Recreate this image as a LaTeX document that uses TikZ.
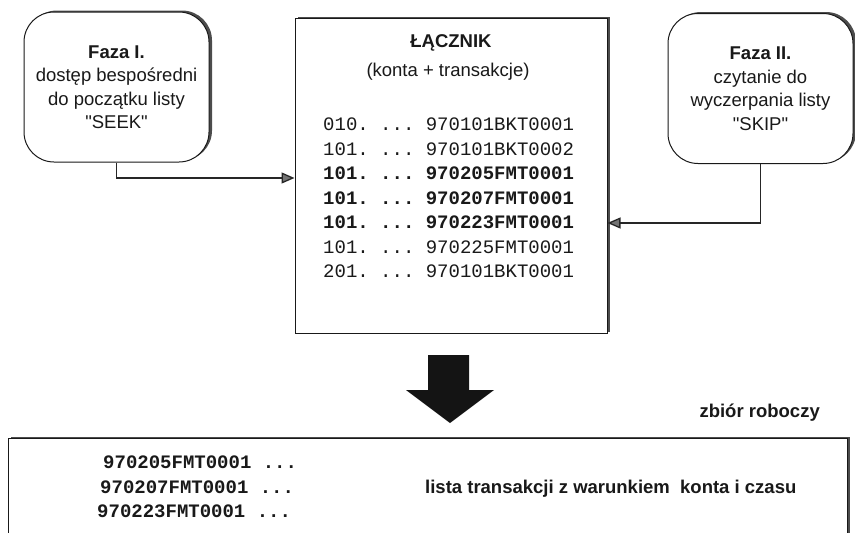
\documentclass[tikz,border=0pt]{standalone}
\usepackage{fontspec}
\setmainfont{Liberation Sans}
\setmonofont{Liberation Mono}
\usetikzlibrary{arrows.meta,shadows}

\begin{document}
\begin{tikzpicture}[x=1pt,y=-1pt,
  boxshadow/.style={drop shadow={shadow xshift=3pt,shadow yshift=1.5pt,fill=black!70,opacity=1}},
  phase/.style={draw=black!90,line width=1pt,fill=white,rounded corners=30pt,
    minimum width=185pt,minimum height=150pt,inner sep=0pt,align=center,
    font=\fontsize{18.5}{23.5}\selectfont,text=black!90,boxshadow},
  frame/.style={draw=black!90,line width=1pt,fill=white,inner sep=0pt,boxshadow},
  sanslabel/.style={inner sep=0pt,text=black!90,font=\fontsize{18.5}{22}\selectfont},
  boldlabel/.style={sanslabel,font=\fontsize{18.5}{22}\selectfont\bfseries},
  monoline/.style={inner sep=0pt,anchor=west,text=black!90,font=\fontsize{19}{22}\selectfont\ttfamily},
  monobold/.style={monoline,font=\fontsize{19}{22}\selectfont\ttfamily\bfseries},
  link/.style={draw=black!85,line width=1.3pt,
    -{Triangle[length=13pt,width=11pt,fill=black!55]}}
]
\useasboundingbox (0,0) rectangle (855,533);
\clip (0,0) rectangle (855,533);

% phase boxes
\node[phase] (seek) at (116.5,87)
  {\textbf{Faza I.}\\dostęp bespośredni\\do początku listy\\\textquotedbl SEEK\textquotedbl};
\node[phase] (skip) at (760.5,88.5)
  {\textbf{Faza II.}\\czytanie do\\wyczerpania listy\\\textquotedbl SKIP\textquotedbl};

% linking file
\node[frame,minimum width=312pt,minimum height=315pt] (link) at (451,175.5) {};
\node[boldlabel] (ltitle) at (451,43) {ŁĄCZNIK};
\node[sanslabel] (lsub) at (448,72) {(konta + transakcje)};
\node[monoline] (r1) at (323,124) {010. ... 970101BKT0001};
\node[monoline] (r2) at (323,149) {101. ... 970101BKT0002};
\node[monobold] (r3) at (323,173) {101. ... 970205FMT0001};
\node[monobold] (r4) at (323,198) {101. ... 970207FMT0001};
\node[monobold] (r5) at (323,222) {101. ... 970223FMT0001};
\node[monoline] (r6) at (323,247) {101. ... 970225FMT0001};
\node[monoline] (r7) at (323,271) {201. ... 970101BKT0001};

% access paths into the linking file
\draw[link] (seek.south) |- ([yshift=-2.5pt]link.west);
\draw[link] (skip.south) |- ([yshift=-47.5pt]link.east);

% result arrow
\fill[black!92] (428,355) -- (469,355) -- (469,390) -- (494,390) -- (450,423)
  -- (406,390) -- (428,390) -- cycle;

% working set
\node[boldlabel,anchor=east] (wlabel) at (820,413) {zbiór roboczy};
\node[frame,minimum width=839pt,minimum height=170pt] (work) at (427.5,523) {};
\node[monobold] (w1) at (103,462) {970205FMT0001 ...};
\node[monobold] (w2) at (100,487) {970207FMT0001 ...};
\node[monobold] (w3) at (97,511) {970223FMT0001 ...};
\node[boldlabel,anchor=west] (wdesc) at (425,489) {lista transakcji z warunkiem\ \ konta i czasu};
\end{tikzpicture}
\end{document}
